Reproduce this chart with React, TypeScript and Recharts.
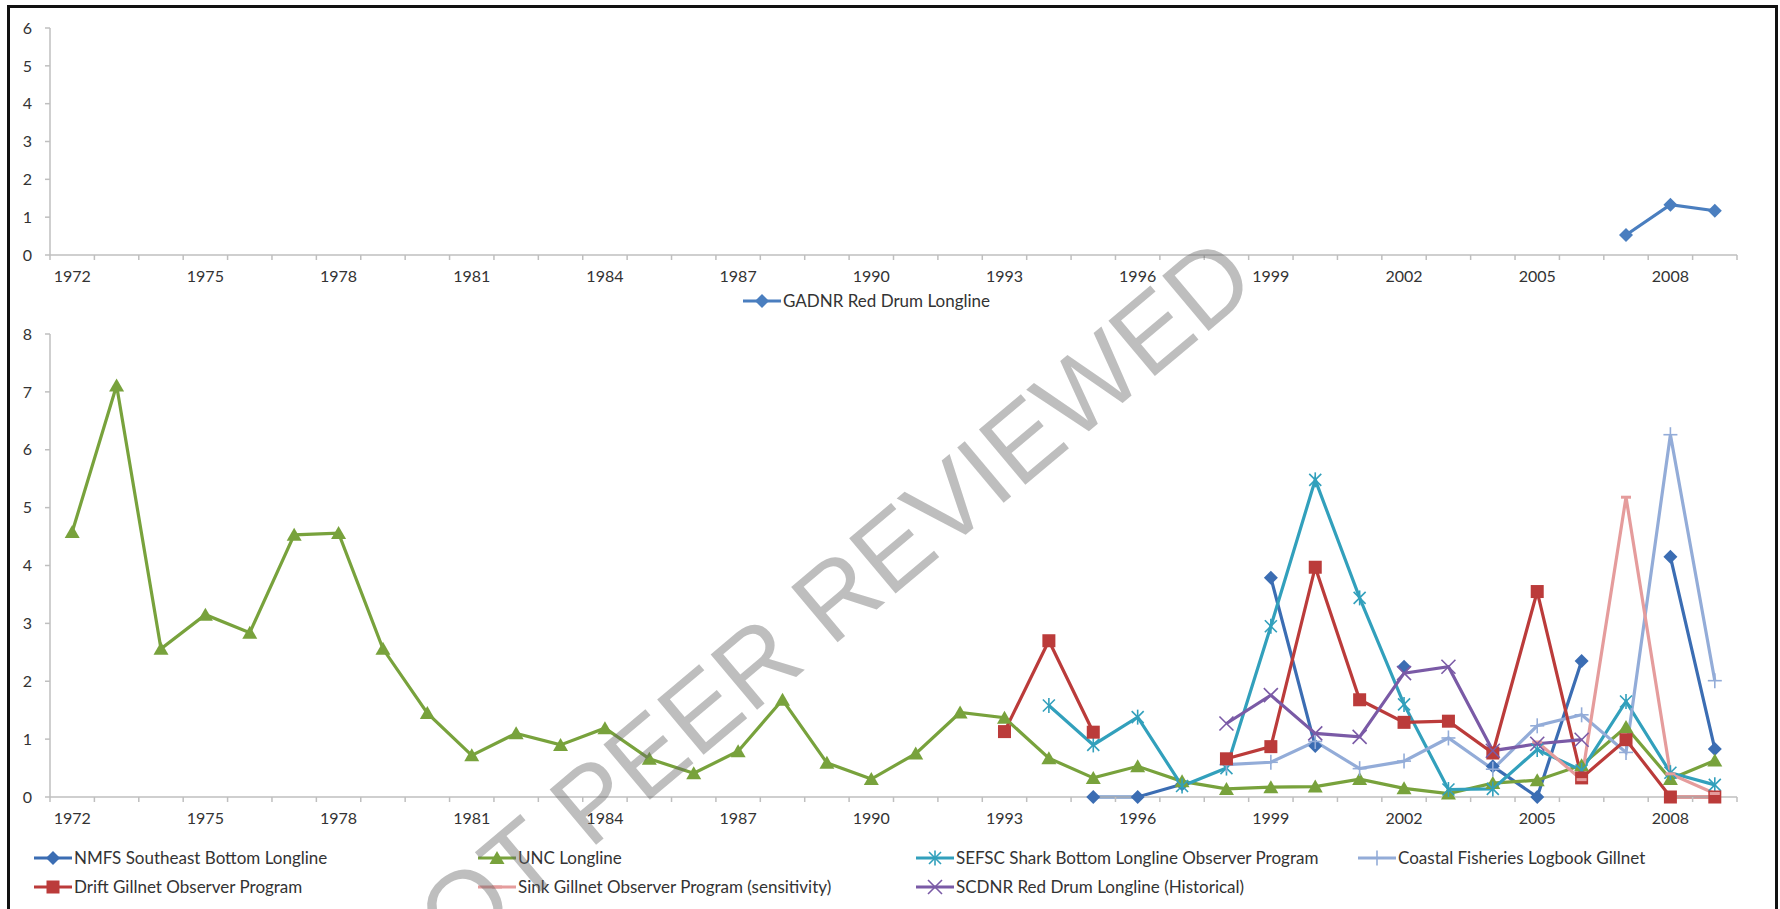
import React from "react";
import { LineChart, Line, XAxis, YAxis } from "recharts";

const YEARS = [
  1972, 1973, 1974, 1975, 1976, 1977, 1978, 1979, 1980, 1981,
  1982, 1983, 1984, 1985, 1986, 1987, 1988, 1989, 1990, 1991,
  1992, 1993, 1994, 1995, 1996, 1997, 1998, 1999, 2000, 2001,
  2002, 2003, 2004, 2005, 2006, 2007, 2008, 2009,
];
const LABEL_YEARS = [1972, 1975, 1978, 1981, 1984, 1987, 1990, 1993, 1996, 1999, 2002, 2005, 2008];
const TOP_Y_TICKS = [0, 1, 2, 3, 4, 5, 6];
const BOTTOM_Y_TICKS = [0, 1, 2, 3, 4, 5, 6, 7, 8];

const _ = null;
// top panel
const GADNR = [
  _, _, _, _, _, _, _, _, _, _, _, _, _, _, _, _, _, _, _, _,
  _, _, _, _, _, _, _, _, _, _, _, _, _, _, _, 0.53, 1.33, 1.17,
];
// bottom panel
const NMFS = [
  _, _, _, _, _, _, _, _, _, _, _, _, _, _, _, _, _, _, _, _,
  _, _, _, 0, 0, 0.22, _, 3.79, 0.88, _, 2.25, _, 0.53, 0, 2.35, _, 4.15, 0.83,
];
const UNC = [
  4.58, 7.11, 2.56, 3.15, 2.84, 4.53, 4.56, 2.56, 1.45, 0.72,
  1.1, 0.9, 1.19, 0.66, 0.41, 0.79, 1.68, 0.59, 0.31, 0.75,
  1.46, 1.37, 0.67, 0.33, 0.53, 0.27, 0.14, 0.17, 0.18, 0.31,
  0.15, 0.06, 0.24, 0.29, 0.55, 1.21, 0.31, 0.63,
];
const SEFSC = [
  _, _, _, _, _, _, _, _, _, _, _, _, _, _, _, _, _, _, _, _,
  _, _, 1.58, 0.9, 1.38, 0.19, 0.5, 2.95, 5.48, 3.44, 1.6, 0.13, 0.14, 0.82, 0.46, 1.65, 0.42, 0.21,
];
const COASTAL = [
  _, _, _, _, _, _, _, _, _, _, _, _, _, _, _, _, _, _, _, _,
  _, _, _, _, _, _, 0.56, 0.6, 0.96, 0.49, 0.62, 1.02, 0.48, 1.23, 1.42, 0.77, 6.26, 2.01,
];
const DRIFT = [
  _, _, _, _, _, _, _, _, _, _, _, _, _, _, _, _, _, _, _, _,
  _, 1.13, 2.7, 1.12, _, _, 0.66, 0.87, 3.97, 1.68, 1.29, 1.31, 0.76, 3.55, 0.33, 0.99, 0, 0,
];
const SINK = [
  _, _, _, _, _, _, _, _, _, _, _, _, _, _, _, _, _, _, _, _,
  _, _, _, _, _, _, _, _, _, _, _, _, _, 0.95, 0.3, 5.18, 0.4, 0.06,
];
const SCDNR = [
  _, _, _, _, _, _, _, _, _, _, _, _, _, _, _, _, _, _, _, _,
  _, _, _, _, _, _, 1.27, 1.76, 1.1, 1.04, 2.14, 2.25, 0.8, 0.92, 0.99, _, _, _,
];

const FONT = "Lato, 'Noto Sans', sans-serif";
const AXIS = "#bfbfbf";
const TEXT = "#333";

type Shape = "diamond" | "triangle" | "square" | "star" | "plus" | "dash" | "cross";

const SERIES: { key: string; name: string; color: string; shape: Shape }[] = [
  { key: "nmfs", name: "NMFS Southeast Bottom Longline", color: "#3b6db3", shape: "diamond" },
  { key: "unc", name: "UNC Longline", color: "#78a23c", shape: "triangle" },
  { key: "sefsc", name: "SEFSC Shark Bottom Longline Observer Program", color: "#32a0bc", shape: "star" },
  { key: "coastal", name: "Coastal Fisheries Logbook Gillnet", color: "#93acd8", shape: "plus" },
  { key: "drift", name: "Drift Gillnet Observer Program", color: "#bb3b3a", shape: "square" },
  { key: "sink", name: "Sink Gillnet Observer Program (sensitivity)", color: "#e59c9c", shape: "dash" },
  { key: "scdnr", name: "SCDNR Red Drum Longline (Historical)", color: "#7a5aa6", shape: "cross" },
];
const GADNR_COLOR = "#4a7ebf";

const rows = YEARS.map((year, i) => ({
  year,
  gadnr: GADNR[i],
  nmfs: NMFS[i],
  unc: UNC[i],
  sefsc: SEFSC[i],
  coastal: COASTAL[i],
  drift: DRIFT[i],
  sink: SINK[i],
  scdnr: SCDNR[i],
}));

// tick marks sit between categories, labels on every third year
const BOUNDS = [...YEARS.map((y) => y - 0.5), 2009.5];
const X_TICKS = [...BOUNDS, ...LABEL_YEARS].sort((a, b) => a - b);

function Marker({ shape, color, cx, cy }: { shape: Shape; color: string; cx: number; cy: number }) {
  switch (shape) {
    case "diamond":
      return <polygon points={`${cx},${cy - 7} ${cx + 7},${cy} ${cx},${cy + 7} ${cx - 7},${cy}`} fill={color} />;
    case "triangle":
      return <polygon points={`${cx},${cy - 7} ${cx + 7.5},${cy + 6} ${cx - 7.5},${cy + 6}`} fill={color} />;
    case "square":
      return <rect x={cx - 6.5} y={cy - 6.5} width={13} height={13} fill={color} />;
    case "star":
      return (
        <g stroke={color} strokeWidth={1.6}>
          <line x1={cx - 6} y1={cy - 6} x2={cx + 6} y2={cy + 6} />
          <line x1={cx - 6} y1={cy + 6} x2={cx + 6} y2={cy - 6} />
          <line x1={cx} y1={cy - 7.5} x2={cx} y2={cy + 7.5} />
        </g>
      );
    case "plus":
      return (
        <g stroke={color} strokeWidth={1.6}>
          <line x1={cx - 7} y1={cy} x2={cx + 7} y2={cy} />
          <line x1={cx} y1={cy - 7.5} x2={cx} y2={cy + 7.5} />
        </g>
      );
    case "cross":
      return (
        <g stroke={color} strokeWidth={1.6}>
          <line x1={cx - 7} y1={cy - 7} x2={cx + 7} y2={cy + 7} />
          <line x1={cx - 7} y1={cy + 7} x2={cx + 7} y2={cy - 7} />
        </g>
      );
    case "dash":
      return <line x1={cx - 5} y1={cy} x2={cx + 5} y2={cy} stroke={color} strokeWidth={3} />;
  }
  return null;
}

const makeDot = (shape: Shape, color: string) => (p: any) => {
  const { cx, cy, value, index } = p;
  if (value == null || cx == null || cy == null || Number.isNaN(cy)) return <g key={`d${index}`} />;
  return (
    <g key={`d${index}`}>
      <Marker shape={shape} color={color} cx={cx} cy={cy} />
    </g>
  );
};

function XTick(props: any) {
  const { x, y, payload } = props;
  const v = payload.value as number;
  if (v % 1 !== 0) {
    return <line x1={x} y1={y} x2={x} y2={y + 5} stroke={AXIS} strokeWidth={1.5} />;
  }
  return (
    <text x={x} y={y + 21} dy="0.35em" textAnchor="middle" fill={TEXT} fontSize={16} fontFamily={FONT}>
      {v}
    </text>
  );
}

function LegendItem({ left, top, name, color, shape }: { left: number; top: number; name: string; color: string; shape: Shape }) {
  return (
    <div style={{ position: "absolute", left, top: top - 10, height: 20, display: "flex", alignItems: "center", whiteSpace: "nowrap" }}>
      <svg width={38} height={20} style={{ marginRight: 2 }}>
        <line x1={0} y1={10} x2={38} y2={10} stroke={color} strokeWidth={3} />
        <Marker shape={shape} color={color} cx={19} cy={10} />
      </svg>
      <span style={{ fontSize: 17, color: TEXT, fontFamily: FONT, lineHeight: "20px" }}>{name}</span>
    </div>
  );
}

const LEG_COLS = [34, 478, 916, 1358];
const LEG_ROWS = [858, 887];

export default function App() {
  const yTick = { fill: TEXT, fontSize: 16, fontFamily: FONT };
  return (
    <div style={{ position: "absolute", left: 0, top: 0, width: 1780, height: 909, overflow: "hidden", background: "#fff" }}>
      <div style={{ position: "absolute", left: 7, top: 5, width: 1771, height: 1000, border: "3px solid #111", boxSizing: "border-box" }} />

      {/* upper panel */}
      <div style={{ position: "absolute", left: 0, top: 0 }}>
        <LineChart width={1780} height={285} data={rows} margin={{ top: 28, right: 43, bottom: 0, left: 0 }}>
          <XAxis dataKey="year" type="number" domain={[1971.5, 2009.5]} ticks={X_TICKS} interval={0}
            tick={<XTick />} tickLine={false} tickSize={0} tickMargin={0} height={30} stroke={AXIS} strokeWidth={1.5} />
          <YAxis type="number" domain={[0, 6]} ticks={TOP_Y_TICKS} interval={0} width={50}
            tick={yTick} tickSize={5} tickMargin={13} stroke={AXIS} strokeWidth={1.5} />
          <Line dataKey="gadnr" stroke={GADNR_COLOR} strokeWidth={3.2} isAnimationActive={false}
            dot={makeDot("diamond", GADNR_COLOR)} activeDot={false} />
        </LineChart>
      </div>
      <LegendItem left={743} top={301} name="GADNR Red Drum Longline" color={GADNR_COLOR} shape="diamond" />

      {/* lower panel */}
      <div style={{ position: "absolute", left: 0, top: 300 }}>
        <LineChart width={1780} height={527} data={rows} margin={{ top: 34, right: 43, bottom: 0, left: 0 }}>
          <XAxis dataKey="year" type="number" domain={[1971.5, 2009.5]} ticks={X_TICKS} interval={0}
            tick={<XTick />} tickLine={false} tickSize={0} tickMargin={0} height={30} stroke={AXIS} strokeWidth={1.5} />
          <YAxis type="number" domain={[0, 8]} ticks={BOTTOM_Y_TICKS} interval={0} width={50}
            tick={yTick} tickSize={5} tickMargin={13} stroke={AXIS} strokeWidth={1.5} />
          {SERIES.map((s) => (
            <Line key={s.key} dataKey={s.key} name={s.name} stroke={s.color} strokeWidth={3.2}
              isAnimationActive={false} dot={makeDot(s.shape, s.color)} activeDot={false} />
          ))}
        </LineChart>
      </div>
      {SERIES.map((s, i) => (
        <LegendItem key={s.key} left={LEG_COLS[i % 4]} top={LEG_ROWS[Math.floor(i / 4)]} name={s.name} color={s.color} shape={s.shape} />
      ))}

      <div style={{
        position: "absolute", left: 806, top: 621, transform: "translate(-50%, -50%) rotate(-40deg)",
        fontFamily: "'Liberation Sans', Arial, sans-serif", fontSize: 105, lineHeight: 1,
        color: "rgba(100,100,100,0.42)", whiteSpace: "nowrap", pointerEvents: "none",
      }}>
        NOT PEER REVIEWED
      </div>
    </div>
  );
}
